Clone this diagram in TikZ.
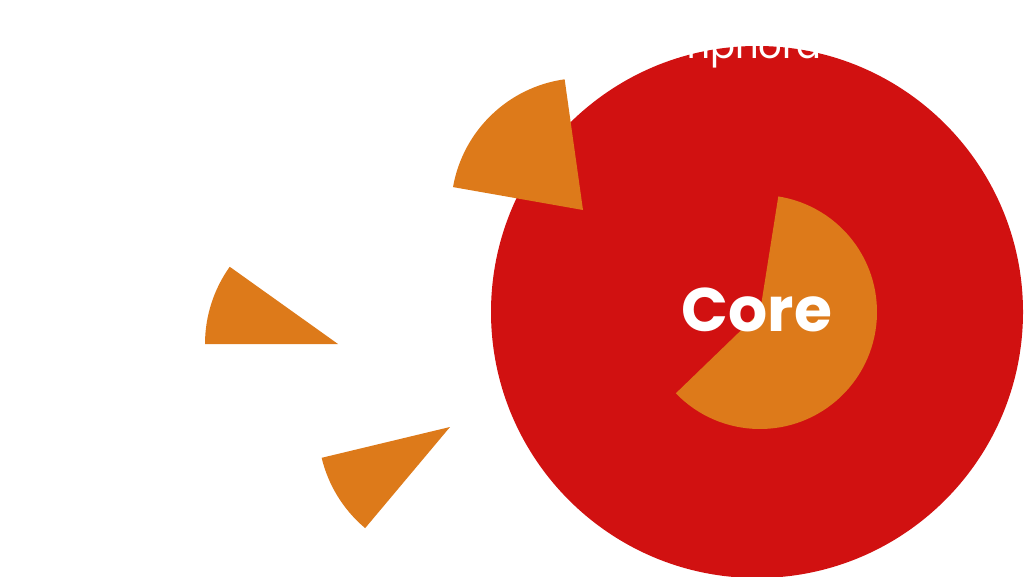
\documentclass[tikz,border=0pt]{standalone}
\usepackage{fontspec}
\setmainfont{Poppins}
\definecolor{corered}{RGB}{209,17,17}
\definecolor{sliceorange}{RGB}{221,122,26}
\begin{document}
\begin{tikzpicture}[x=0.02cm, y=0.02cm]
    \useasboundingbox (0,0) rectangle (1024,576);
    \fill [corered] (757,264) circle (266);
    % slices
    \fill [sliceorange] (760,264) -- ++(-136:117) arc [start angle=-136, end angle=81, radius=117] -- cycle;
    \fill [sliceorange] (583,366) -- ++(98:132) arc [start angle=98, end angle=170, radius=132] -- cycle;
    \fill [sliceorange] (338,232) -- ++(144.5:133) arc [start angle=144.5, end angle=180, radius=133] -- cycle;
    \fill [sliceorange] (450,149) -- ++(193.5:132) arc [start angle=193.5, end angle=230, radius=132] -- cycle;
    \node (core) [white, font=\fontsize{35}{40}\selectfont\bfseries] at (757,266) {Core};
    \node (title) [white, anchor=base west, inner sep=0pt, font=\fontsize{21}{25}\selectfont] at (647,518) {Amphora};
\end{tikzpicture}
\end{document}
